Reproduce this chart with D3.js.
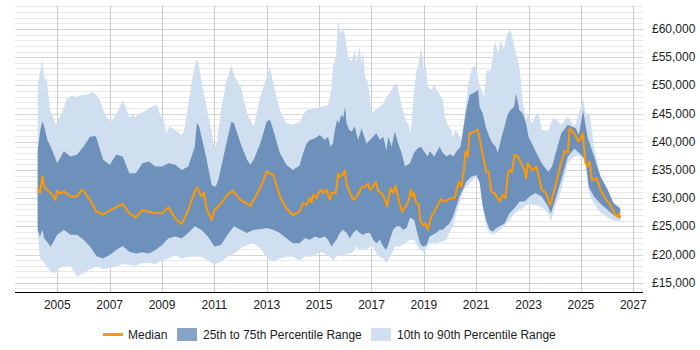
<!DOCTYPE html>
<html lang="en">
<head>
  <meta charset="UTF-8">
  <title>Salary percentiles over time</title>
  <script src="https://d3js.org/d3.v7.min.js"></script>
  <style>
    body { margin: 0; padding: 0; background: #fff; font-family: "Liberation Sans", Arial, sans-serif; }
    svg text { font-family: "Liberation Sans", Arial, sans-serif; font-size: 12px; fill: #222; }
  </style>
</head>
<body>
  <svg id="chart" width="700" height="350"></svg>

  <script>
    // [year, £] pairs
    const p90 = [[2004.25,50100],[2004.43,54600],[2004.5,51300],[2004.6,51000],[2004.72,45600],[2004.95,43100],[2005.17,45000],[2005.36,47600],[2005.55,48200],[2005.7,47900],[2005.82,48200],[2006.1,48300],[2006.35,48800],[2006.5,48300],[2006.63,47400],[2006.75,45600],[2006.95,43900],[2007.05,43600],[2007.25,44800],[2007.5,47400],[2007.6,46300],[2007.75,44300],[2007.9,44800],[2008.0,44400],[2008.15,45000],[2008.4,45600],[2008.6,46200],[2008.8,46500],[2008.95,44500],[2009.05,44200],[2009.15,41500],[2009.3,42700],[2009.5,42100],[2009.75,41200],[2009.85,42100],[2010.03,47400],[2010.15,51000],[2010.3,54600],[2010.37,54300],[2010.5,51000],[2010.65,47400],[2010.9,41500],[2011.0,38800],[2011.1,39700],[2011.25,45600],[2011.45,50400],[2011.65,53600],[2011.78,51500],[2012.0,49800],[2012.25,45000],[2012.5,42700],[2012.75,48000],[2013.0,51500],[2013.12,53300],[2013.25,50400],[2013.5,45600],[2013.75,43300],[2014.0,43000],[2014.25,43500],[2014.5,45600],[2014.78,45900],[2015.15,46200],[2015.34,46500],[2015.47,49200],[2015.53,53300],[2015.64,55100],[2015.73,61600],[2015.79,59800],[2015.86,59200],[2015.92,60400],[2015.99,58600],[2016.11,55100],[2016.24,54200],[2016.36,56300],[2016.43,53900],[2016.49,55700],[2016.55,56900],[2016.62,53900],[2016.68,56300],[2016.75,51500],[2016.87,50400],[2017.0,45000],[2017.13,45600],[2017.32,46200],[2017.45,46800],[2017.57,48000],[2017.7,48600],[2017.83,49800],[2017.96,50400],[2018.05,48600],[2018.17,46200],[2018.3,43900],[2018.43,42700],[2018.5,41500],[2018.62,48600],[2018.72,52700],[2018.8,53600],[2018.87,56600],[2018.94,55400],[2019.0,52700],[2019.08,53600],[2019.15,49800],[2019.28,49200],[2019.4,50100],[2019.53,48900],[2019.73,47400],[2019.8,44500],[2019.92,43000],[2020.05,42100],[2020.11,40600],[2020.2,42100],[2020.3,41500],[2020.45,40300],[2020.55,44500],[2020.7,50400],[2020.85,53300],[2021.0,53300],[2021.1,50400],[2021.3,48000],[2021.4,52700],[2021.55,52700],[2021.65,55400],[2021.7,58000],[2021.83,55700],[2021.95,58000],[2022.05,56300],[2022.15,58600],[2022.27,59900],[2022.33,59500],[2022.52,55700],[2022.65,53300],[2022.77,47400],[2022.9,43900],[2023.0,45000],[2023.13,43300],[2023.25,44500],[2023.38,45000],[2023.5,42100],[2023.75,41800],[2023.9,43900],[2024.0,44200],[2024.25,43000],[2024.5,44500],[2024.75,42700],[2024.92,45000],[2025.08,47800],[2025.17,45000],[2025.25,45000],[2025.35,44500],[2025.5,39100],[2025.75,33800],[2026.0,31400],[2026.25,28800],[2026.5,27900]];

    const p75 = [[2004.25,38500],[2004.35,42000],[2004.43,43600],[2004.5,42700],[2004.62,40300],[2004.75,39100],[2005.0,36200],[2005.25,38300],[2005.5,37400],[2005.75,37700],[2006.0,39100],[2006.25,40900],[2006.45,41000],[2006.5,40600],[2006.75,36800],[2007.0,35900],[2007.25,37700],[2007.5,37400],[2007.75,34400],[2008.0,34400],[2008.25,36200],[2008.5,36500],[2008.75,35600],[2009.0,35600],[2009.25,36200],[2009.5,35900],[2009.75,35000],[2010.0,35600],[2010.25,39100],[2010.33,43300],[2010.42,42700],[2010.68,37400],[2010.9,32300],[2011.05,32000],[2011.15,33200],[2011.4,38500],[2011.65,43600],[2011.75,43300],[2012.0,39700],[2012.25,36800],[2012.37,35900],[2012.5,36800],[2012.75,39700],[2013.0,43600],[2013.12,43900],[2013.25,42100],[2013.5,38000],[2013.75,35900],[2014.0,35000],[2014.25,35800],[2014.39,38000],[2014.52,39700],[2014.65,40300],[2014.84,40600],[2015.03,41200],[2015.22,40300],[2015.34,40900],[2015.43,39100],[2015.53,39700],[2015.6,42100],[2015.69,43900],[2015.76,43300],[2015.85,44800],[2015.92,44200],[2015.99,46200],[2016.05,43300],[2016.15,42100],[2016.24,41800],[2016.36,42700],[2016.49,40300],[2016.62,42400],[2016.68,41500],[2016.81,39700],[2016.94,40300],[2017.06,40900],[2017.19,41500],[2017.32,40300],[2017.45,40900],[2017.57,38500],[2017.64,40900],[2017.77,39100],[2017.89,41800],[2018.02,39700],[2018.15,38000],[2018.28,35600],[2018.47,36200],[2018.62,38000],[2018.75,38800],[2018.9,39100],[2019.0,38300],[2019.15,37400],[2019.22,38300],[2019.4,37400],[2019.6,39100],[2019.73,38000],[2019.86,37400],[2020.0,37800],[2020.13,37400],[2020.25,38300],[2020.4,39100],[2020.5,42100],[2020.62,45600],[2020.75,48300],[2020.88,48600],[2021.0,48900],[2021.07,49200],[2021.13,46200],[2021.25,45000],[2021.38,42400],[2021.5,40900],[2021.63,39700],[2021.75,39100],[2021.82,38000],[2021.95,40500],[2022.08,42700],[2022.2,44800],[2022.3,45600],[2022.45,46200],[2022.52,48600],[2022.65,45600],[2022.78,45000],[2022.9,43300],[2023.0,40900],[2023.25,38500],[2023.5,36200],[2023.75,34700],[2023.9,35600],[2024.0,37400],[2024.25,41500],[2024.5,43000],[2024.65,42700],[2024.8,42400],[2024.92,41200],[2025.08,45600],[2025.25,40900],[2025.5,37400],[2025.75,33800],[2026.0,31700],[2026.25,29100],[2026.5,28200]];

    const median = [[2004.25,31700],[2004.34,30900],[2004.43,33900],[2004.5,32000],[2004.6,31500],[2004.75,30900],[2004.92,29700],[2005.0,31300],[2005.12,30800],[2005.25,31200],[2005.5,30300],[2005.75,30300],[2005.93,31500],[2006.0,31300],[2006.25,29700],[2006.5,27600],[2006.75,27100],[2007.0,27800],[2007.25,28400],[2007.5,29000],[2007.75,27300],[2008.0,26600],[2008.25,27900],[2008.5,27600],[2008.75,27300],[2009.0,27300],[2009.25,28400],[2009.5,26400],[2009.75,25400],[2010.0,27900],[2010.25,31200],[2010.34,31900],[2010.5,30300],[2010.6,31000],[2010.7,28200],[2010.9,26100],[2011.0,27900],[2011.25,29000],[2011.5,30600],[2011.7,31300],[2012.0,29700],[2012.25,29000],[2012.37,28600],[2012.5,29700],[2012.75,31700],[2013.0,34700],[2013.12,34400],[2013.25,34100],[2013.5,30300],[2013.75,28200],[2014.0,27000],[2014.25,27600],[2014.39,29100],[2014.52,28800],[2014.65,30000],[2014.71,29200],[2014.78,30600],[2014.91,30000],[2014.97,30900],[2015.09,31500],[2015.15,30900],[2015.28,31500],[2015.41,29700],[2015.47,30900],[2015.64,30900],[2015.73,34400],[2015.79,33800],[2015.89,34100],[2015.98,34900],[2016.05,32600],[2016.18,30900],[2016.31,29700],[2016.43,30300],[2016.55,31200],[2016.62,32000],[2016.75,32000],[2016.87,32600],[2016.94,31500],[2017.06,32000],[2017.17,32900],[2017.26,31200],[2017.39,30900],[2017.52,29700],[2017.59,28500],[2017.64,29700],[2017.73,31800],[2017.83,30900],[2017.92,32200],[2018.05,29400],[2018.17,27600],[2018.3,28500],[2018.43,29700],[2018.5,31500],[2018.56,30300],[2018.63,30900],[2018.7,29100],[2018.8,29000],[2018.86,26100],[2018.96,25200],[2019.06,25500],[2019.15,24400],[2019.28,26700],[2019.4,27600],[2019.53,28800],[2019.66,29800],[2019.79,29400],[2019.92,29700],[2020.05,30000],[2020.18,30000],[2020.25,31500],[2020.34,32900],[2020.43,32000],[2020.53,35000],[2020.59,38300],[2020.68,37400],[2020.75,41500],[2020.94,41800],[2021.06,42100],[2021.19,39100],[2021.38,34700],[2021.48,34700],[2021.57,31200],[2021.7,30900],[2021.89,29400],[2022.02,30600],[2022.12,30000],[2022.21,34400],[2022.3,35000],[2022.37,34600],[2022.46,37700],[2022.59,37400],[2022.72,36200],[2022.85,35000],[2022.91,33500],[2022.97,36200],[2023.15,34900],[2023.3,35600],[2023.5,31500],[2023.67,30900],[2023.83,28800],[2024.0,31700],[2024.22,35900],[2024.37,38300],[2024.5,38100],[2024.57,42400],[2024.78,41200],[2024.9,40000],[2024.99,40600],[2025.07,41500],[2025.17,36300],[2025.25,35600],[2025.33,36500],[2025.42,33200],[2025.61,33500],[2025.74,31500],[2025.89,30200],[2026.12,28800],[2026.31,27000],[2026.4,26700],[2026.45,27300],[2026.5,26600]];

    const p25 = [[2004.25,24400],[2004.34,23200],[2004.43,24400],[2004.5,22900],[2004.75,21400],[2005.0,23500],[2005.25,24400],[2005.5,23500],[2005.75,23500],[2006.0,22600],[2006.25,21400],[2006.5,19700],[2006.75,19300],[2007.0,19900],[2007.25,20800],[2007.5,21500],[2007.75,20500],[2008.0,20200],[2008.25,20400],[2008.5,20200],[2008.75,20800],[2009.0,21700],[2009.25,22900],[2009.5,23200],[2009.75,22900],[2010.0,23800],[2010.25,25000],[2010.5,24400],[2010.75,23200],[2011.0,21400],[2011.25,21700],[2011.5,23500],[2011.75,25000],[2012.0,24400],[2012.25,23800],[2012.5,24400],[2012.75,24500],[2013.0,24700],[2013.25,24400],[2013.5,23800],[2013.75,22900],[2014.0,22000],[2014.25,22000],[2014.45,22900],[2014.65,22600],[2014.84,23200],[2015.03,22900],[2015.22,23200],[2015.34,22600],[2015.47,21400],[2015.66,22600],[2015.79,23800],[2015.92,24400],[2016.05,23800],[2016.17,22900],[2016.3,23800],[2016.43,24400],[2016.55,23800],[2016.68,23500],[2016.81,23800],[2016.94,23800],[2017.06,22600],[2017.19,22000],[2017.32,22600],[2017.45,21400],[2017.55,20800],[2017.64,21700],[2017.7,22600],[2017.83,24400],[2017.96,25000],[2018.08,25000],[2018.21,24400],[2018.34,24700],[2018.47,26500],[2018.63,26100],[2018.75,23800],[2018.88,21700],[2019.0,21400],[2019.1,21700],[2019.22,23200],[2019.34,23500],[2019.47,23800],[2019.6,24400],[2019.73,24400],[2019.85,25000],[2019.98,25500],[2020.11,26700],[2020.24,28500],[2020.36,30300],[2020.49,31500],[2020.62,32900],[2020.81,33800],[2021.0,34100],[2021.13,32900],[2021.25,28500],[2021.38,26100],[2021.51,24400],[2021.64,24100],[2021.76,24700],[2021.89,25000],[2022.08,25500],[2022.27,27300],[2022.46,28200],[2022.66,29400],[2022.85,29400],[2023.04,30300],[2023.25,30900],[2023.5,30300],[2023.75,28500],[2023.85,27300],[2024.0,29400],[2024.25,33200],[2024.5,37400],[2024.75,38800],[2025.0,37700],[2025.17,36800],[2025.3,32000],[2025.5,30300],[2025.75,29000],[2026.0,28000],[2026.25,27000],[2026.5,26300]];

    const p10 = [[2004.25,23800],[2004.34,19300],[2004.5,18500],[2004.75,17000],[2004.92,16700],[2005.0,17300],[2005.25,17900],[2005.5,18000],[2005.75,16100],[2006.0,16700],[2006.25,17400],[2006.5,17900],[2006.75,17400],[2007.0,17600],[2007.25,17900],[2007.5,18300],[2007.75,18200],[2008.0,18000],[2008.25,18500],[2008.5,18500],[2008.75,18300],[2009.0,19000],[2009.25,19300],[2009.5,19900],[2009.75,19300],[2010.0,19600],[2010.25,19600],[2010.5,19600],[2010.75,19000],[2011.0,18200],[2011.25,18700],[2011.5,19600],[2011.75,20200],[2012.0,21100],[2012.25,21700],[2012.5,22000],[2012.75,21100],[2013.0,19600],[2013.25,18700],[2013.5,19300],[2013.75,19600],[2014.0,19600],[2014.26,19000],[2014.45,19600],[2014.65,19600],[2014.84,19900],[2015.03,20500],[2015.22,20200],[2015.41,19600],[2015.53,19000],[2015.66,19600],[2015.79,19900],[2015.92,19600],[2016.05,20200],[2016.17,20200],[2016.3,20500],[2016.43,21400],[2016.55,20800],[2016.68,21100],[2016.81,20800],[2016.94,21400],[2017.06,21400],[2017.19,20200],[2017.32,19600],[2017.45,19300],[2017.55,18500],[2017.64,19000],[2017.77,20200],[2017.89,21400],[2018.08,21400],[2018.28,22000],[2018.47,22600],[2018.63,22600],[2018.75,21400],[2018.88,20800],[2019.0,20500],[2019.1,21100],[2019.22,22000],[2019.47,22000],[2019.73,22300],[2019.85,22600],[2019.98,23800],[2020.11,25000],[2020.24,27300],[2020.36,29100],[2020.49,31200],[2020.62,32000],[2020.81,32900],[2021.0,33700],[2021.13,32600],[2021.25,28200],[2021.38,25000],[2021.51,23800],[2021.64,23500],[2021.76,23800],[2021.89,24400],[2022.08,25000],[2022.27,26100],[2022.46,27300],[2022.66,27900],[2022.85,28500],[2023.04,29000],[2023.25,28800],[2023.5,28400],[2023.75,27300],[2023.85,25800],[2024.0,28200],[2024.25,31500],[2024.5,36200],[2024.75,37400],[2025.0,37500],[2025.17,36500],[2025.3,30900],[2025.5,29100],[2025.75,27400],[2026.0,26700],[2026.25,26000],[2026.5,26000]];

    const yearTicks = [2005, 2007, 2009, 2011, 2013, 2015, 2017, 2019, 2021, 2023, 2025, 2027];
    const salaryTicks = [15000, 20000, 25000, 30000, 35000, 40000, 45000, 50000, 55000, 60000];
    const legendItems = ["Median", "25th to 75th Percentile Range", "10th to 90th Percentile Range"];

    const plot = {left: 15, right: 643, top: 5, bottom: 292};
    const colors = {outer: "#cfdfef", inner: "#6d91bb", median: "#ff9900",
                    outerKey: "#d0e0f0", innerKey: "#86a4c6"};

    const svg = d3.select("#chart");

    const x = d3.scaleLinear().domain([2005, 2027]).range([57.3, 633.3]);
    const y = d3.scaleLinear().domain([15000, 60000]).range([282.7, 29]);

    // minor + major horizontal grid
    const grid = svg.append("g");
    grid.selectAll("line.minor")
      .data(d3.range(14000, 65000, 1000).filter(v => v % 5000 !== 0))
      .enter().append("line")
      .attr("x1", plot.left).attr("x2", plot.right)
      .attr("y1", d => Math.round(y(d)) + 0.5).attr("y2", d => Math.round(y(d)) + 0.5)
      .attr("stroke", "#e9e9e9");
    grid.selectAll("line.major")
      .data(salaryTicks)
      .enter().append("line")
      .attr("x1", plot.left).attr("x2", plot.right)
      .attr("y1", d => Math.round(y(d)) + 0.5).attr("y2", d => Math.round(y(d)) + 0.5)
      .attr("stroke", "#d4d4d4");
    grid.selectAll("line.vert")
      .data(yearTicks)
      .enter().append("line")
      .attr("x1", d => Math.round(x(d)) + 0.5).attr("x2", d => Math.round(x(d)) + 0.5)
      .attr("y1", plot.top).attr("y2", plot.bottom)
      .attr("stroke", "#cccccc");

    const toPts = arr => arr.map(d => [x(d[0]), y(d[1])]);
    const line = d3.line();
    const band = (hi, lo) => line(toPts(hi).concat(toPts(lo).reverse())) + "Z";

    svg.append("path").attr("d", band(p90, p10)).attr("fill", colors.outer);
    svg.append("path").attr("d", band(p75, p25)).attr("fill", colors.inner);
    svg.append("path").attr("d", line(toPts(median)))
      .attr("fill", "none").attr("stroke", colors.median)
      .attr("stroke-width", 2).attr("stroke-linejoin", "round");

    // x axis
    svg.append("line")
      .attr("x1", plot.left).attr("x2", plot.right)
      .attr("y1", plot.bottom + 0.5).attr("y2", plot.bottom + 0.5)
      .attr("stroke", "#000").attr("stroke-width", 1.2);
    svg.selectAll("text.year")
      .data(yearTicks)
      .enter().append("text")
      .attr("x", d => x(d)).attr("y", 309)
      .attr("text-anchor", "middle")
      .text(d => d);

    // right axis labels
    const fmt = d3.format(",");
    svg.selectAll("text.sal")
      .data(salaryTicks)
      .enter().append("text")
      .attr("x", 652).attr("y", d => y(d) + 4)
      .text(d => "£" + fmt(d));

    // legend
    const lg = svg.append("g");
    lg.append("line").attr("x1", 103).attr("x2", 123).attr("y1", 334.5).attr("y2", 334.5)
      .attr("stroke", colors.median).attr("stroke-width", 3);
    lg.append("text").attr("x", 128).attr("y", 338.5).text(legendItems[0]);
    lg.append("rect").attr("x", 177).attr("y", 328).attr("width", 20).attr("height", 13).attr("fill", colors.innerKey);
    lg.append("text").attr("x", 203).attr("y", 338.5).text(legendItems[1]);
    lg.append("rect").attr("x", 371).attr("y", 328).attr("width", 20).attr("height", 13).attr("fill", colors.outerKey);
    lg.append("text").attr("x", 397).attr("y", 338.5).text(legendItems[2]);
  </script>
</body>
</html>
